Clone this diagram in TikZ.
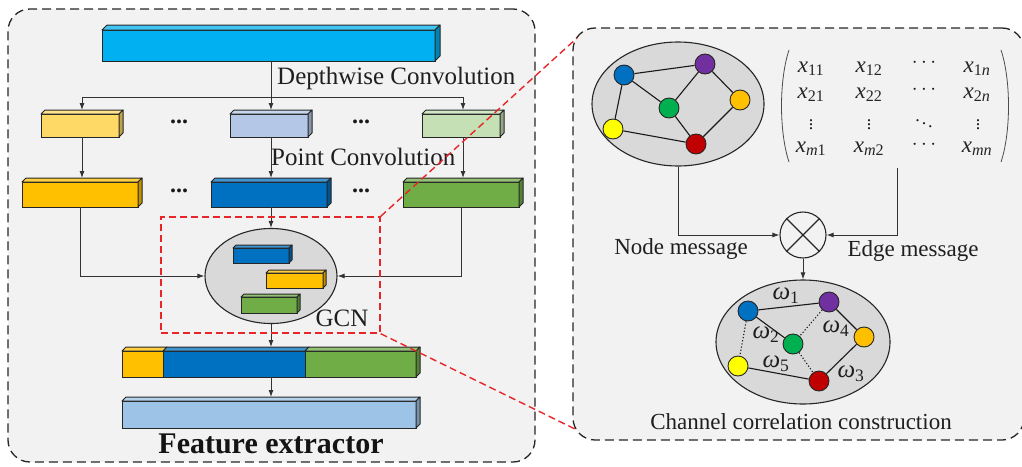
\documentclass[tikz,border=0pt]{standalone}
\usepackage{fontspec}
\setmainfont{Liberation Serif}
\usetikzlibrary{shapes.geometric,arrows.meta,calc}
\definecolor{panelbg}{HTML}{F2F2F2}
\definecolor{bubblegray}{HTML}{D9D9D9}
\definecolor{ctop}{HTML}{00B0F0}
\definecolor{ylight}{HTML}{FFD966}
\definecolor{blight}{HTML}{B4C7E7}
\definecolor{glight}{HTML}{C5E0B4}
\definecolor{cyel}{HTML}{FFC000}
\definecolor{cblu}{HTML}{0070C0}
\definecolor{cgrn}{HTML}{70AD47}
\definecolor{cbot}{HTML}{9DC3E6}
\definecolor{npurple}{HTML}{7030A0}
\definecolor{ngreen}{HTML}{00B050}
\definecolor{nyellow}{HTML}{FFFF00}
\definecolor{nred}{HTML}{C00000}
\definecolor{redline}{HTML}{E8262A}
\newcommand\cuboid[7]{%
  \node[cubeface, fill=#7, minimum width={(#4-#6-#2)*1pt}, minimum height={(#5-#3-#6)*1pt}] (#1) at ({(#2+#4-#6)/2},{(#3+#6+#5)/2}) {};
  \draw[cubeedge, fill=#7!75!white] (#2,#3+#6) -- (#2+#6,#3) -- (#4,#3) -- (#4-#6,#3+#6) -- cycle;
  \draw[cubeedge, fill=#7!75!black] (#4-#6,#3+#6) -- (#4,#3) -- (#4,#5-#6) -- (#4-#6,#5) -- cycle;
  \coordinate (#1-t) at ({(#2+#4)/2},#3);
}
\newcommand\mxe[1]{{\itshape x}\textsubscript{#1}}
\begin{document}
\begin{tikzpicture}[x=1pt,y=-1pt,
  panel/.style={draw=black!85, dash pattern=on 9pt off 5pt, line width=1.3pt, rounded corners=22pt, fill=panelbg, inner sep=0pt},
  cubeface/.style={draw=black!85, line width=1pt, inner sep=0pt, outer sep=0pt},
  cubeedge/.style={draw=black!85, line width=1pt, line join=round},
  conn/.style={draw=black!80, line width=0.9pt},
  arr/.style={conn, -{Latex[length=7pt,width=5pt]}},
  lbl/.style={font=\fontsize{25}{30}\selectfont, text=black!88, inner sep=0pt},
  rlbl/.style={font=\fontsize{23}{28}\selectfont, text=black!88, inner sep=0pt},
  mlbl/.style={font=\fontsize{23}{26}\selectfont, text=black!85, inner sep=0pt, anchor=base},
  dotlbl/.style={font=\fontsize{20}{24}\selectfont, text=black!90, inner sep=0pt},
  vdotlbl/.style={font=\fontsize{18}{22}\selectfont, text=black!90, inner sep=0pt},
  bdots/.style={font=\fontsize{24}{28}\selectfont\bfseries, text=black!90, inner sep=0pt, anchor=base},
  wlbl/.style={font=\fontsize{25}{30}\selectfont, text=black!88, inner sep=0pt},
  gnode/.style={circle, draw=black!85, line width=0.9pt, minimum size=20pt, inner sep=0pt},
  gedge/.style={draw=black!90, line width=1.1pt},
  gdot/.style={draw=black!90, line width=1.1pt, dash pattern=on 1.2pt off 2pt},
  bubble/.style={ellipse, draw=black!85, line width=1.1pt, fill=bubblegray, inner sep=0pt},
  reddash/.style={draw=redline, line width=1.4pt, dash pattern=on 7pt off 4pt}
]
\useasboundingbox (0,0) rectangle (1022,466);
% panels
\node[panel, minimum width=527pt, minimum height=453pt] (left) at (271.5,235.5) {};
\node[panel, minimum width=451pt, minimum height=412pt] (right) at (798.5,234) {};

% ---------- left panel ----------
\cuboid{top}{102}{25}{440}{61}{5}{ctop}
\node[lbl, anchor=west] (dwc) at (277,78) {Depthwise Convolution};

\cuboid{a2}{41}{110}{123}{137}{4}{ylight}
\cuboid{b2}{230}{110}{312}{137}{4}{blight}
\cuboid{c2}{422}{110}{504}{137}{4}{glight}
\node[bdots] (d1) at (179,123) {...};
\node[bdots] (d2) at (361,123) {...};

\node[lbl, anchor=west] (pc) at (271,157) {Point Convolution};

\cuboid{a3}{22}{178}{142}{207}{4}{cyel}
\cuboid{b3}{211}{178}{331}{207}{4}{cblu}
\cuboid{c3}{403}{178}{523}{207}{4}{cgrn}
\node[bdots] (d3) at (179,192) {...};
\node[bdots] (d4) at (361,192) {...};

% connectors top part
\coordinate (split) at (271,97);
\draw[conn] (top.south -| split) -- (split);
\draw[arr] (split) -- (b2-t);
\draw[arr] (split) -| (a2-t);
\draw[arr] (split) -| (c2-t);
\draw[arr] (a2.south -| a3-t) -- (a3-t);
\draw[arr] (b2.south -| b3-t) -- (b3-t);
\draw[arr] (c2.south -| c3-t) -- (c3-t);

% GCN
\node[bubble, minimum width=132pt, minimum height=95pt] (gcn) at (271,276) {};
\cuboid{gb}{233}{245}{292}{263}{3}{cblu}
\cuboid{gy}{266}{270}{326}{288}{3}{cyel}
\cuboid{gg}{241}{294}{300}{313}{3}{cgrn}
\node[lbl, anchor=center] (gcnl) at (342,318) {GCN};

\draw[arr] (b3.south -| gcn.north) -- (gcn.north);
\draw[arr] (a3.south) |- (gcn.west);
\draw[arr] (c3.south) |- (gcn.east);

% concatenated bar
\node[cubeface, fill=cyel, minimum width=41pt, minimum height=26pt] (cat1) at (142.5,364) {};
\node[cubeface, fill=cblu, minimum width=142pt, minimum height=26pt] (cat2) at (234,364) {};
\node[cubeface, fill=cgrn, minimum width=111pt, minimum height=26pt] (cat3) at (360.5,364) {};
\draw[cubeedge, fill=cyel!75!white] (122,351) -- (126,347) -- (167,347) -- (163,351) -- cycle;
\draw[cubeedge, fill=cblu!75!white] (163,351) -- (167,347) -- (309,347) -- (305,351) -- cycle;
\draw[cubeedge, fill=cgrn!75!white] (305,351) -- (309,347) -- (420,347) -- (416,351) -- cycle;
\draw[cubeedge, fill=cgrn!75!black] (416,351) -- (420,347) -- (420,373) -- (416,377) -- cycle;
\coordinate (cat-t) at (271,347);
\coordinate (cat-b) at (271,377);

\cuboid{bot}{122}{397}{420}{428}{4}{cbot}

\draw[arr] (gcn.south) -- (cat-t);
\draw[arr] (cat-b) -- (bot-t);

\node[font=\fontsize{30}{36}\selectfont\bfseries, text=black!92, inner sep=0pt] (fe) at (271,444) {Feature extractor};

% ---------- right panel ----------
\node[bubble, minimum width=172pt, minimum height=124pt] (g1) at (678,104) {};
\node[gnode, fill=cblu] (n1) at (624,75) {};
\node[gnode, fill=npurple] (n2) at (705,64) {};
\node[gnode, fill=ngreen] (n3) at (669,108) {};
\node[gnode, fill=cyel] (n4) at (740,100) {};
\node[gnode, fill=nyellow] (n5) at (613,129) {};
\node[gnode, fill=nred] (n6) at (696,144) {};
\draw[gedge] (n1) -- (n2);
\draw[gedge] (n1) -- (n3);
\draw[gedge] (n1) -- (n5);
\draw[gedge] (n2) -- (n3);
\draw[gedge] (n2) -- (n4);
\draw[gedge] (n4) -- (n6);
\draw[gedge] (n3) -- (n6);
\draw[gedge] (n5) -- (n6);

% matrix
\draw[draw=black!70, line width=0.8pt] (789,50) .. controls (779,80) and (779,132) .. (789,162);
\draw[draw=black!70, line width=0.8pt] (1001,50) .. controls (1011,80) and (1011,132) .. (1001,162);
\node[mlbl] (x11) at (811,72) {\mxe{11}};
\node[mlbl] (x12) at (869,72) {\mxe{12}};
\node[mlbl] (x1n) at (977,72) {\mxe{1{\itshape n}}};
\node[mlbl] (x21) at (811,98) {\mxe{21}};
\node[mlbl] (x22) at (869,98) {\mxe{22}};
\node[mlbl] (x2n) at (977,98) {\mxe{2{\itshape n}}};
\node[mlbl] (xm1) at (811,152) {\mxe{{\itshape m}1}};
\node[mlbl] (xm2) at (869,152) {\mxe{{\itshape m}2}};
\node[mlbl] (xmn) at (977,152) {\mxe{{\itshape mn}}};
\node[dotlbl] (h1) at (924,63) {$\cdots$};
\node[dotlbl] (h2) at (924,90) {$\cdots$};
\node[dotlbl] (h3) at (924,145) {$\cdots$};
\node[vdotlbl] (v1) at (811,122) {$\vdots$};
\node[vdotlbl] (v2) at (869,122) {$\vdots$};
\node[vdotlbl] (v4) at (978,122) {$\vdots$};
\node[vdotlbl] (v3) at (924,121) {$\ddots$};

% product
\node[circle, draw=black!85, line width=1.1pt, minimum size=46pt, inner sep=0pt, fill=panelbg] (ot) at (803,235) {};
\draw[draw=black!85, line width=1.1pt] (ot.north west) -- (ot.south east);
\draw[draw=black!85, line width=1.1pt] (ot.north east) -- (ot.south west);
\coordinate (mb) at (897,168);
\draw[arr] (g1.south) |- (ot.west);
\draw[arr] (mb) |- (ot.east);
\node[rlbl] (nm) at (681,249) {Node message};
\node[rlbl] (em) at (913,251) {Edge message};

% bottom graph
\node[bubble, minimum width=174pt, minimum height=124pt] (g2) at (803,342) {};
\draw[arr] (ot.south) -- (g2.north);
\node[gnode, fill=cblu] (m1) at (748,311) {};
\node[gnode, fill=npurple] (m2) at (829,302) {};
\node[gnode, fill=ngreen] (m3) at (793,344) {};
\node[gnode, fill=cyel] (m4) at (864,337) {};
\node[gnode, fill=nyellow] (m5) at (738,366) {};
\node[gnode, fill=nred] (m6) at (819,381) {};
\draw[gedge] (m1) -- (m2);
\draw[gedge] (m1) -- (m3);
\draw[gedge] (m2) -- (m4);
\draw[gedge] (m4) -- (m6);
\draw[gedge] (m5) -- (m6);
\draw[gdot] (m1) -- (m5);
\draw[gdot] (m2) -- (m3);
\draw[gdot] (m3) -- (m6);
\node[wlbl] (w1) at (786,296) {{\itshape ω}\textsubscript{1}};
\node[wlbl] (w2) at (766,335) {{\itshape ω}\textsubscript{2}};
\node[wlbl] (w4) at (836,329) {{\itshape ω}\textsubscript{4}};
\node[wlbl] (w5) at (776,364) {{\itshape ω}\textsubscript{5}};
\node[wlbl] (w3) at (851,374) {{\itshape ω}\textsubscript{3}};
\node[rlbl] (ccc) at (801,422) {Channel correlation construction};

% ---------- zoom indicator ----------
\node[reddash, minimum width=219pt, minimum height=116pt, inner sep=0pt] (zr) at (270.5,275) {};
\coordinate (rt) at (577,38);
\coordinate (rb) at (577,430);
\draw[reddash] (zr.north east) -- (rt);
\draw[reddash] (zr.south east) -- (rb);
\end{tikzpicture}
\end{document}
